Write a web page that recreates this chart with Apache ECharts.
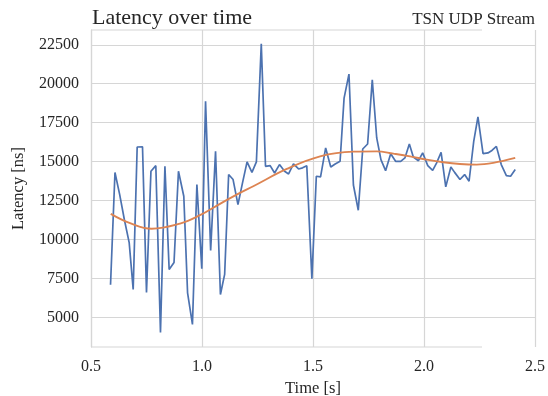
<!DOCTYPE html>
<html>
<head>
<meta charset="utf-8">
<script src="https://cdn.jsdelivr.net/npm/echarts@6/dist/echarts.min.js"></script>
<style>
html,body{margin:0;padding:0;background:#fff;}
#chart{width:548px;height:396px;}
</style>
</head>
<body>
<div id="chart"></div>
<script>
// Measured latency samples
const times = [0.588,0.608,0.629,0.650,0.672,0.690,0.708,0.732,0.750,0.770,0.792,0.813,0.833,0.852,0.874,0.894,0.918,0.935,0.957,0.977,0.999,1.016,1.039,1.061,1.083,1.102,1.120,1.140,1.162,1.182,1.203,1.225,1.245,1.267,1.286,1.307,1.327,1.349,1.372,1.390,1.412,1.435,1.453,1.472,1.495,1.515,1.534,1.557,1.580,1.600,1.622,1.640,1.662,1.682,1.704,1.724,1.746,1.767,1.787,1.806,1.827,1.850,1.872,1.895,1.914,1.934,1.952,1.975,1.994,2.017,2.039,2.057,2.077,2.098,2.121,2.138,2.162,2.183,2.203,2.224,2.243,2.266,2.288,2.306,2.326,2.348,2.371,2.390,2.411];
const latency = [7100,14300,12900,11300,9800,6800,15940,15950,6600,14380,14740,4040,14700,8080,8520,14380,12780,6580,4550,13530,8120,18870,9300,15660,6470,7760,14170,13850,12240,13600,14980,14310,14980,22560,14700,14740,14270,14810,14380,14210,14850,14530,14600,14740,7480,14060,14020,15880,14660,14850,15020,19080,20620,13500,11880,15810,16130,20260,16520,15130,14420,15510,15020,15020,15240,16130,15300,15060,15560,14740,14440,14920,15600,13380,14660,14310,13850,14170,13740,16300,17870,15510,15560,15720,15980,14810,14100,14060,14490];
// Trend curve samples
const trendTimes = [0.589,0.676,0.773,0.901,0.991,1.081,1.171,1.231,1.382,1.532,1.682,1.787,1.862,1.937,2.012,2.087,2.162,2.237,2.312,2.411];
const trend = [11650,11050,10690,11020,11560,12290,12990,13420,14530,15340,15640,15660,15510,15340,15130,14960,14850,14810,14920,15240];
// Axis ticks
const yTicks = [5000,7500,10000,12500,15000,17500,20000,22500];
const xTicks = [0.5,1.0,1.5,2.0,2.5];

const FONT = '"Liberation Serif", "DejaVu Serif", serif';
const TXT = '#262626';
const GRID = '#d6d6d6';

const chart = echarts.init(document.getElementById('chart'), null, {renderer:'canvas'});
const option = {
  animation: false,
  backgroundColor: '#fff',
  title: [
    {text:'Latency over time', left: 87, top: 2, textStyle:{fontFamily:FONT, fontSize:22, fontWeight:'normal', color:TXT}},
    {text:'TSN UDP Stream', right: 8, top: 6, textStyle:{fontFamily:FONT, fontSize:17, fontWeight:'normal', color:TXT}}
  ],
  grid: {left:91, right:13, top:30, bottom:49, containLabel:false, outerBoundsMode:'none'},
  xAxis: {
    type:'value', min:xTicks[0], max:xTicks[xTicks.length-1], interval:0.5,
    name:'Time [s]', nameLocation:'middle', nameGap:27,
    nameTextStyle:{fontFamily:FONT, fontSize:16.5, color:TXT},
    axisLine:{show:false}, axisTick:{show:false},
    axisLabel:{fontFamily:FONT, fontSize:16, color:TXT, margin:12, formatter:v=>v.toFixed(1)},
    splitLine:{show:true, lineStyle:{color:GRID, width:1.2}}
  },
  yAxis: {
    type:'value', min:3100, max:23450,
    name:'Latency [ns]', nameLocation:'middle', nameGap:64,
    nameTextStyle:{fontFamily:FONT, fontSize:16.5, color:TXT},
    axisLine:{show:true, lineStyle:{color:GRID, width:1.2}},
    axisTick:{show:false, customValues:yTicks},
    axisLabel:{fontFamily:FONT, fontSize:16, color:TXT, margin:12, customValues:yTicks, formatter:v=>String(v)},
    splitLine:{show:true, lineStyle:{color:GRID, width:1.2}}
  },
  graphic: [
    {type:'line', shape:{x1:91, y1:30, x2:482, y2:30}, style:{stroke:GRID, lineWidth:1.2}, z:0},
    {type:'line', shape:{x1:91, y1:347, x2:482, y2:347}, style:{stroke:GRID, lineWidth:1.2}, z:0}
  ],
  series: [
    {type:'line', data: times.map((t,i)=>[t, latency[i]]), showSymbol:false, symbol:'none',
     lineStyle:{color:'#4c72b0', width:1.7}, z:3},
    {type:'line', data: trendTimes.map((t,i)=>[t, trend[i]]), showSymbol:false, symbol:'none', smooth:0.4,
     lineStyle:{color:'#dd8452', width:1.9}, z:4}
  ]
};
chart.setOption(option);
</script>
</body>
</html>
